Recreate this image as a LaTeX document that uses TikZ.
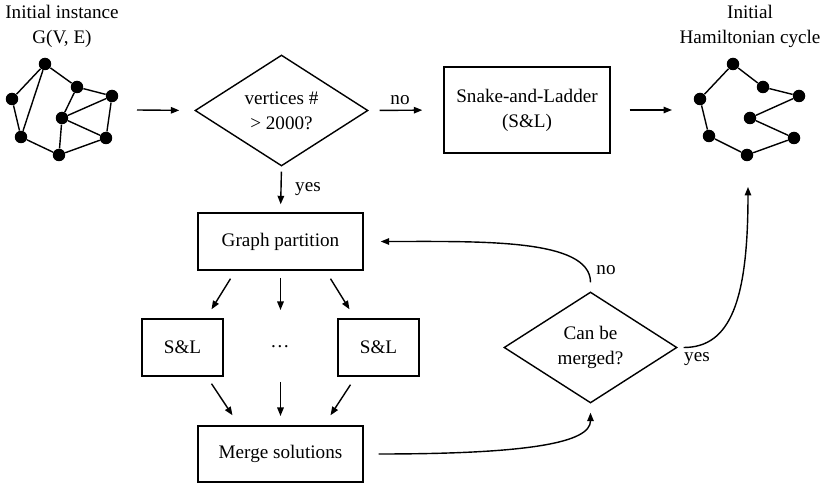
\documentclass[tikz,border=0pt]{standalone}
\usepackage{fontspec}
\setmainfont{Liberation Serif}
\usetikzlibrary{arrows.meta}
\usetikzlibrary{calc}
\usetikzlibrary{positioning}
\usetikzlibrary{shapes.geometric}

\tikzset{
  box/.style={rectangle,draw=black,line width=0.8pt,align=center,inner sep=0pt},
  decision/.style={diamond,draw=black,line width=0.8pt,align=center,inner sep=0pt,aspect=1.5,minimum width=3.46cm,minimum height=2.22cm},
  gdot/.style={circle,fill=black,inner sep=0pt,minimum size=0.25cm},
  gedge/.style={black,line width=0.8pt},
  arr/.style={black,line width=0.8pt,-{Triangle[length=1.7mm,width=1.3mm]}},
  lbl/.style={inner sep=0pt,align=center}
}

\begin{document}
\begin{tikzpicture}[x=0.02cm,y=-0.02cm,font=\fontsize{10.9}{14.2}\selectfont]
\useasboundingbox (0,0) rectangle (823,486);

% titles
\node[lbl] (tin) at (62,26) {Initial instance\\G(V, E)};
\node[lbl] (tout) at (750,26) {Initial\\Hamiltonian cycle};

% input graph
\node[gdot] (l1) at (45,64) {};
\node[gdot] (l2) at (12,99) {};
\node[gdot] (l3) at (21,137) {};
\node[gdot] (l4) at (59,155) {};
\node[gdot] (l5) at (62,118) {};
\node[gdot] (l6) at (77,87) {};
\node[gdot] (l7) at (112,96) {};
\node[gdot] (l8) at (106,138) {};
\draw[gedge] (l1) -- (l2) -- (l3) -- (l4) -- (l8) -- (l7) -- (l6) -- (l1) -- (l3);
\draw[gedge] (l6) -- (l5) -- (l7);
\draw[gedge] (l5) -- (l8);
\draw[gedge] (l5) -- (l4);

% output cycle
\node[gdot] (r1) at (733,64) {};
\node[gdot] (r2) at (763,87) {};
\node[gdot] (r3) at (799,96) {};
\node[gdot] (r4) at (750,118) {};
\node[gdot] (r5) at (794,138) {};
\node[gdot] (r6) at (747,155) {};
\node[gdot] (r7) at (709,136) {};
\node[gdot] (r8) at (700,99) {};
\draw[gedge] (r1) -- (r2) -- (r3) -- (r4) -- (r5) -- (r6) -- (r7) -- (r8) -- (r1);

% flow chart
\node[decision] (vtx) at (281.5,110.5) {vertices \#\\> 2000?};
\node[box,minimum width=3.32cm,minimum height=1.72cm] (snl) at (527,110) {Snake-and-Ladder\\(S\&L)};
\node[box,minimum width=3.3cm,minimum height=1.14cm] (gp) at (280.5,241.5) {Graph partition};
\node[box,minimum width=1.62cm,minimum height=1.14cm] (sl1) at (182.5,347.5) {S\&L};
\node[lbl] (dts) at (280,347) {\ldots};
\node[box,minimum width=1.62cm,minimum height=1.14cm] (sl2) at (378.5,347.5) {S\&L};
\node[box,minimum width=3.3cm,minimum height=1.12cm] (ms) at (280.5,454) {Merge solutions};
\node[decision] (cbm) at (590.5,347.5) {Can be\\merged?};

\coordinate (gin) at (137,110);
\coordinate (gout) at (672,110);
\coordinate (gup) at (748,187);
\coordinate (c1) at (280.5,278);
\coordinate (c2) at (280.5,382);

\draw[arr,shorten >=0.3cm] (gin) -- (vtx.west);
\draw[arr,shorten <=0.22cm,shorten >=0.42cm] (vtx.east) -- (snl.west);
\node[lbl] (lno1) at (400,100) {no};
\draw[arr,shorten <=0.38cm] (snl.east) -- (gout);
\draw[arr,shorten <=0.1cm,shorten >=0.16cm] (vtx.south) -- (gp.north);
\node[lbl] (lyes1) at (308,189) {yes};

\draw[arr] ($(gp.south)+(-50,8)$) -- ($(sl1.north)+(29,-9)$);
\draw[arr] (c1) -- ($(c1)+(0,32)$);
\draw[arr] ($(gp.south)+(50,8)$) -- ($(sl2.north)+(-29,-9)$);
\draw[arr] ($(sl1.south)+(29,7)$) -- ($(ms.north)+(-48,-10)$);
\draw[arr] (c2) -- ($(c2)+(0,34)$);
\draw[arr] ($(sl2.south)+(-28,8)$) -- ($(ms.north)+(50,-10)$);

\draw[arr] ($(ms.east)+(15,0)$) .. controls +(150,0) and +(0,30) .. ($(cbm.south)+(0,9)$);
\draw[arr] ($(cbm.north)+(0,-9)$) .. controls +(0,-44) and +(100,0) .. ($(gp.east)+(17,0)$);
\node[lbl] (lno2) at (606,270) {no};
\draw[arr] ($(cbm.east)+(6,0)$) .. controls +(47,0) and +(0,113) .. (gup);
\node[lbl] (lyes2) at (697,359) {yes};

\end{tikzpicture}
\end{document}
